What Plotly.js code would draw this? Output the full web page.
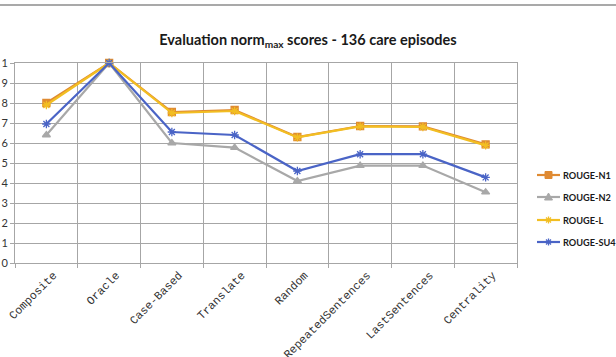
<!DOCTYPE html>
<html>
<head>
<meta charset="utf-8">
<script src="https://cdn.plot.ly/plotly-3.0.1.min.js"></script>
<style>
  html, body { margin: 0; padding: 0; background: #ffffff; }
  #chart { width: 616px; height: 357px; }
</style>
</head>
<body>
<div id="chart"></div>
<script>
// Summarisation methods evaluated
const methods = ["Composite", "Oracle", "Case-Based", "Translate", "Random",
                 "RepeatedSentences", "LastSentences", "Centrality"];

// norm_max scores per ROUGE metric
const rougeN1  = [0.80, 1.00, 0.755, 0.765, 0.63, 0.685, 0.683, 0.593];
const rougeN2  = [0.64, 1.00, 0.60, 0.577, 0.41, 0.487, 0.487, 0.354];
const rougeL   = [0.79, 1.00, 0.750, 0.760, 0.628, 0.683, 0.680, 0.588];
const rougeSU4 = [0.695, 1.00, 0.655, 0.640, 0.46, 0.544, 0.544, 0.428];

// y tick labels as printed on the axis
const yTickVals = [0, 0.1, 0.2, 0.3, 0.4, 0.5, 0.6, 0.7, 0.8, 0.9, 1];
const yTickText = ["0", "1", "2", "3", "4", "5", "6", "7", "8", "9", "1"];

const seriesNames = ["ROUGE-N1", "ROUGE-N2", "ROUGE-L", "ROUGE-SU4"];
const seriesValues = [rougeN1, rougeN2, rougeL, rougeSU4];
const seriesColors = ["#DF8A32", "#A8A8A8", "#F2BE22", "#4A64C6"];
const seriesSymbols = ["square", "triangle-up", "asterisk-open", "asterisk-open"];

const W = 616, H = 357;
const M = { l: 15, r: 99, t: 63, b: 94 };
const plotW = W - M.l - M.r, plotH = H - M.t - M.b;
// pixel position -> paper coordinates (used for the side key and the frame line)
const px = x => (x - M.l) / plotW;
const py = y => (H - M.b - y) / plotH;

const traces = seriesNames.map((name, i) => ({
  type: "scatter",
  mode: "lines+markers",
  name: name,
  x: methods,
  y: seriesValues[i],
  line: { color: seriesColors[i], width: 2.2 },
  marker: {
    symbol: seriesSymbols[i],
    size: 7,
    color: seriesColors[i],
    line: { color: seriesColors[i], width: 1.3 }
  },
  cliponaxis: false,
  showlegend: false
}));

// Side key: a short line, the series glyph and the series name
const keyShapes = [];
const keyNotes = [];
const keyX0 = 537, keyX1 = 560, keyTextX = 562;
const keyY = [175, 197, 220, 242];
seriesNames.forEach((name, i) => {
  const c = seriesColors[i];
  const cy = keyY[i];
  const cx = (keyX0 + keyX1) / 2;
  const lineStyle = { color: c, width: 2.2 };
  keyShapes.push({ type: "line", xref: "paper", yref: "paper",
    x0: px(keyX0), x1: px(keyX1), y0: py(cy), y1: py(cy), line: lineStyle });
  const s = 3.5;
  if (seriesSymbols[i] === "square") {
    keyShapes.push({ type: "rect", xref: "paper", yref: "paper",
      x0: px(cx - s), x1: px(cx + s), y0: py(cy - s), y1: py(cy + s),
      fillcolor: c, line: { color: c, width: 1 } });
  } else if (seriesSymbols[i] === "triangle-up") {
    keyShapes.push({ type: "path", xref: "paper", yref: "paper",
      path: `M ${px(cx - 4)} ${py(cy + 3)} L ${px(cx + 4)} ${py(cy + 3)} L ${px(cx)} ${py(cy - 4)} Z`,
      fillcolor: c, line: { color: c, width: 1 } });
  } else {
    const a = 3.5, d = 2.5;
    [[-a, 0, a, 0], [0, -a, 0, a], [-d, -d, d, d], [-d, d, d, -d]].forEach(([ax, ay, bx, by]) => {
      keyShapes.push({ type: "line", xref: "paper", yref: "paper",
        x0: px(cx + ax), x1: px(cx + bx), y0: py(cy + ay), y1: py(cy + by),
        line: { color: c, width: 1.3 } });
    });
  }
  keyNotes.push({
    xref: "paper", yref: "paper", x: px(keyTextX), y: py(cy),
    xanchor: "left", yanchor: "middle", showarrow: false, text: name,
    borderpad: 0,
    font: { family: "Lato, 'Open Sans', sans-serif", size: 9.2, color: "#1a1a1a", weight: "bold" }
  });
});

const gridColor = "#A6A6A6";

const layout = {
  width: W,
  height: H,
  margin: M,
  paper_bgcolor: "#ffffff",
  plot_bgcolor: "#ffffff",
  showlegend: false,
  title: {
    text: "Evaluation norm<sub>max</sub> scores - 136 care episodes",
    font: { family: "Lato, 'Open Sans', sans-serif", size: 14.5, color: "#1a1a1a", weight: "bold" },
    x: 0.5,
    xref: "container",
    xanchor: "center",
    y: 1 - 40 / H,
    yref: "container",
    yanchor: "middle"
  },
  xaxis: {
    type: "category",
    tickson: "boundaries",
    ticks: "outside",
    ticklen: 4,
    tickcolor: gridColor,
    tickangle: -45,
    ticklabelshift: 7,
    tickfont: { family: "'Liberation Mono', 'DejaVu Sans Mono', monospace", size: 11.5, color: "#333333" },
    showgrid: true,
    gridcolor: gridColor,
    gridwidth: 1,
    showline: true,
    linecolor: gridColor,
    linewidth: 1,
    mirror: true,
    zeroline: false,
    range: [-0.5, 7.5],
    fixedrange: true
  },
  yaxis: {
    range: [0, 1],
    tickvals: yTickVals,
    ticktext: yTickText,
    ticks: "outside",
    ticklen: 4,
    tickcolor: gridColor,
    tickfont: { family: "Lato, 'Open Sans', sans-serif", size: 11, color: "#333333" },
    showgrid: true,
    gridcolor: gridColor,
    gridwidth: 1,
    showline: true,
    linecolor: gridColor,
    linewidth: 1,
    mirror: true,
    zeroline: false,
    fixedrange: true
  },
  annotations: keyNotes,
  shapes: [
    {
      type: "line",
      xref: "paper",
      yref: "paper",
      x0: px(0),
      x1: px(W),
      y0: py(5),
      y1: py(5),
      line: { color: "#8c8c8c", width: 1.5 }
    }
  ].concat(keyShapes)
};

Plotly.newPlot("chart", traces, layout, { displayModeBar: false, staticPlot: true });
</script>
</body>
</html>
